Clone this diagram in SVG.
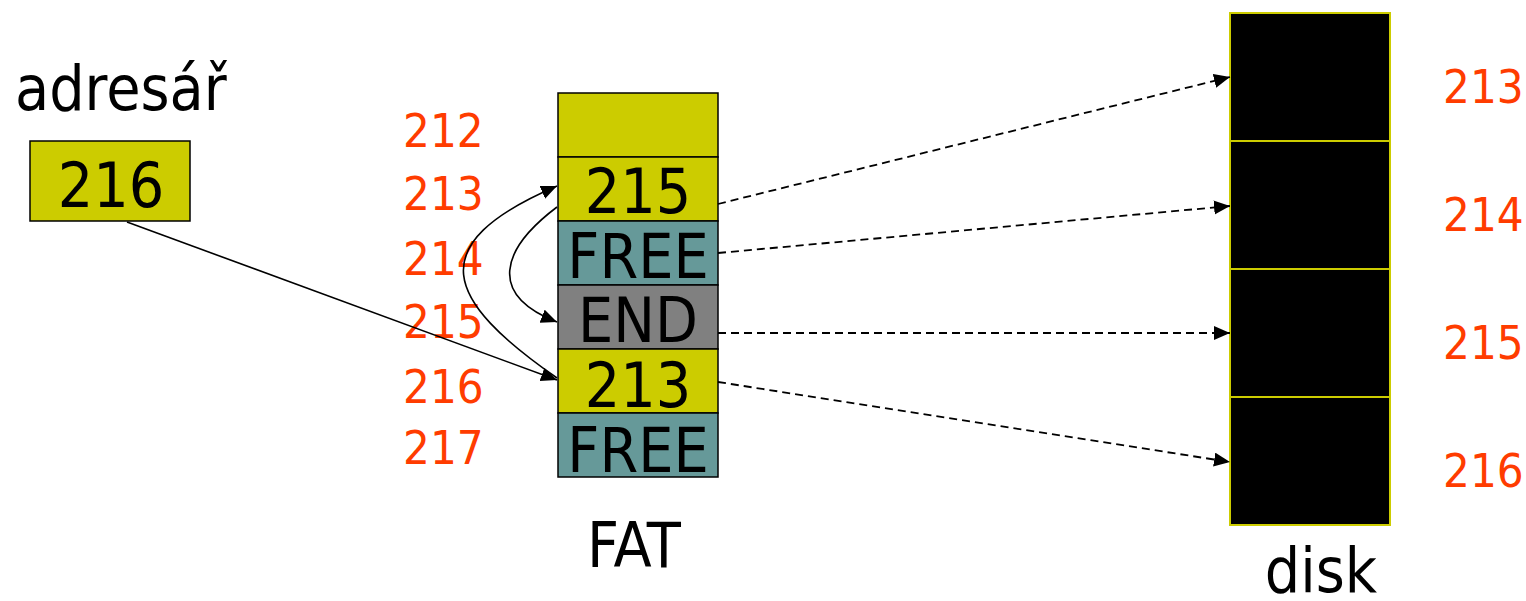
<svg xmlns="http://www.w3.org/2000/svg" width="1526" height="601" viewBox="0 0 1526 601">
<style>
text{font-family:"DejaVu Sans Condensed","DejaVu Sans",sans-serif;font-stretch:condensed}
.big{font-size:62px;fill:#000}
.num{font-size:47px;fill:#FF3C00}
.cell{stroke:#000;stroke-width:1.5}
.yel{fill:#CCCC00}
.teal{fill:#669999}
.gray{fill:#808080}
.disk{fill:#000;stroke:#CCCC00;stroke-width:2}
.solid{fill:none;stroke:#000;stroke-width:1.6}
.dash{fill:none;stroke:#000;stroke-width:1.8;stroke-dasharray:8,5}
</style>
<defs>
<marker id="ah" markerUnits="userSpaceOnUse" markerWidth="17" markerHeight="15" refX="16" refY="7" orient="auto">
<path d="M0,0 L16,7 L0,14 z" fill="#000"/>
</marker>
</defs>
<g id="adresar">
<text class="big" x="15" y="110">adresář</text>
<rect class="cell yel" x="30" y="141" width="160" height="80"/>
<text class="big" x="111" y="207" text-anchor="middle" font-size="64">216</text>
</g>
<g id="fat-labels">
<text class="num" x="403" y="147">212</text>
<text class="num" x="403" y="210">213</text>
<text class="num" x="403" y="275">214</text>
<text class="num" x="403" y="338">215</text>
<text class="num" x="403" y="403">216</text>
<text class="num" x="403" y="464">217</text>
</g>
<g id="fat">
<rect class="cell yel" x="558" y="93" width="160" height="64"/>
<rect class="cell yel" x="558" y="157" width="160" height="64"/>
<rect class="cell teal" x="558" y="221" width="160" height="64"/>
<rect class="cell gray" x="558" y="285" width="160" height="64"/>
<rect class="cell yel" x="558" y="349" width="160" height="64"/>
<rect class="cell teal" x="558" y="413" width="160" height="64"/>
<text class="big" x="638" y="213" text-anchor="middle">215</text>
<text class="big" x="638" y="278" text-anchor="middle">FREE</text>
<text class="big" x="638" y="342" text-anchor="middle">END</text>
<text class="big" x="638" y="407" text-anchor="middle">213</text>
<text class="big" x="638" y="472" text-anchor="middle">FREE</text>
<text class="big" x="634" y="567" text-anchor="middle" font-size="63">FAT</text>
</g>
<g id="disk">
<rect class="disk" x="1230" y="13" width="160" height="128"/>
<rect class="disk" x="1230" y="141" width="160" height="128"/>
<rect class="disk" x="1230" y="269" width="160" height="128"/>
<rect class="disk" x="1230" y="397" width="160" height="128"/>
<text class="big" x="1321" y="592" text-anchor="middle" font-size="60">disk</text>
</g>
<g id="disk-labels">
<text class="num" x="1443" y="103">213</text>
<text class="num" x="1443" y="231">214</text>
<text class="num" x="1443" y="359">215</text>
<text class="num" x="1443" y="487">216</text>
</g>
<g id="connectors">
<path class="solid" d="M127,222 L557,380" marker-end="url(#ah)"/>
<path class="solid" d="M557,378 C445,300 420,245 557,186" marker-end="url(#ah)"/>
<path class="solid" d="M557,207 C500,250 488,295 557,322" marker-end="url(#ah)"/>
<path class="dash" d="M718,204 L1230,77" marker-end="url(#ah)"/>
<path class="dash" d="M718,253 L1230,206" marker-end="url(#ah)"/>
<path class="dash" d="M718,333 L1230,333" marker-end="url(#ah)"/>
<path class="dash" d="M718,382 L1230,462" marker-end="url(#ah)"/>
</g>
</svg>
